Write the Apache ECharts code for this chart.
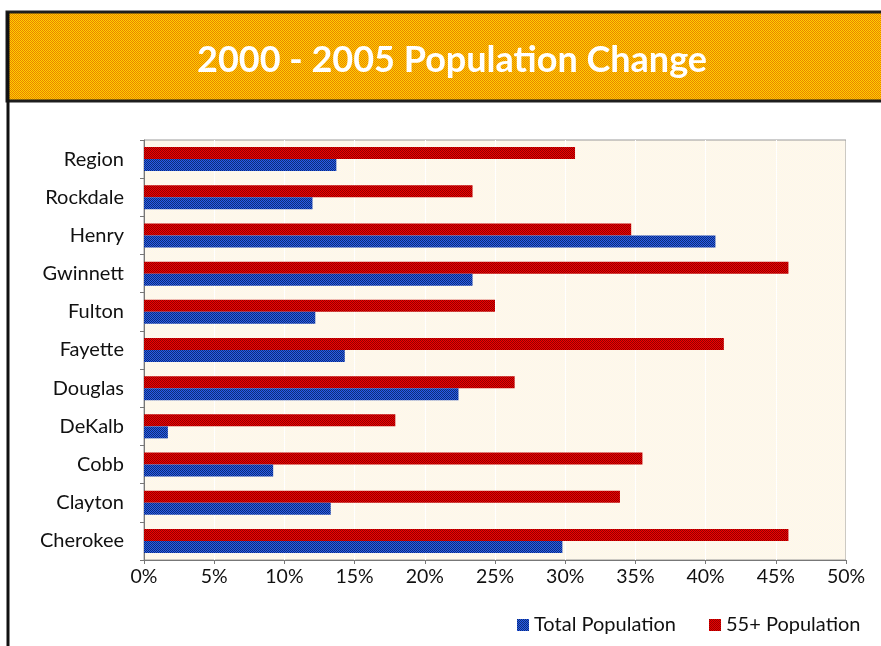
<!DOCTYPE html>
<html lang="en">
<head>
    <meta charset="UTF-8">
    <title>2000 - 2005 Population Change</title>
    <script src="https://cdn.jsdelivr.net/npm/echarts@6/dist/echarts.min.js"></script>
    <style>
        html, body { margin: 0; padding: 0; background: #fff; }
        #chart_wrap { width: 881px; height: 646px; }
    </style>
</head>
<body>
<div id="chart_wrap"></div>
<script type="text/javascript">
// data (percent change 2000-2005)
var counties = ["Region", "Rockdale", "Henry", "Gwinnett", "Fulton", "Fayette",
                "Douglas", "DeKalb", "Cobb", "Clayton", "Cherokee"];
var totalPop = [13.7, 12.0, 40.7, 23.4, 12.2, 14.3, 22.4, 1.7, 9.2, 13.3, 29.8];
var pop55 = [30.7, 23.4, 34.7, 45.9, 25.0, 41.3, 26.4, 17.9, 35.5, 33.9, 45.9];
var seriesNames = ["Total Population", "55+ Population"];

// small checker patterns, to get the dithered look of the original
function checker(c1, c2) {
    var cv = document.createElement("canvas");
    cv.width = 2;
    cv.height = 2;
    var ctx = cv.getContext("2d");
    ctx.fillStyle = c1;
    ctx.fillRect(0, 0, 2, 2);
    ctx.fillStyle = c2;
    ctx.fillRect(0, 0, 1, 1);
    ctx.fillRect(1, 1, 1, 1);
    return { image: cv, repeat: "repeat" };
}

var redFill = checker("#f00000", "#920000");
var blueFill = checker("#2a5ae8", "#0c2e78");
var creamFill = checker("#fffce6", "#fcf3f0");
var orangeFill = checker("#ffd000", "#e98200");

var font = "Lato, 'Open Sans', sans-serif";

var chart = echarts.init(document.getElementById("chart_wrap"));
var option = {
    animation: false,
    title: {
        text: "2000 - 2005 Population Change",
        left: 192,
        top: 37,
        textStyle: {
            color: "#fff",
            fontFamily: font,
            fontWeight: "bold",
            fontSize: 36
        }
    },
    graphic: [
        {
            // orange header band
            type: "rect",
            z: -1,
            shape: { x: 7, y: 12, width: 890, height: 89 },
            style: { fill: orangeFill, stroke: "#1e1e1e", lineWidth: 3 }
        },
        {
            // outer frame, left side
            type: "line",
            z: -1,
            shape: { x1: 8, y1: 12, x2: 8, y2: 646 },
            style: { stroke: "#111", lineWidth: 3 }
        }
    ],
    legend: {
        data: seriesNames,
        left: 512,
        top: 610,
        itemWidth: 12,
        itemHeight: 12,
        itemGap: 33,
        icon: "rect",
        textStyle: { color: "#111", fontFamily: font, fontSize: 20 }
    },
    grid: {
        left: 144,
        right: 35,
        top: 140,
        bottom: 86,
        show: true,
        backgroundColor: creamFill,
        borderColor: "#9a9a9a",
        borderWidth: 1
    },
    xAxis: {
        type: "value",
        min: 0,
        max: 50,
        interval: 5,
        axisLine: { show: true, lineStyle: { color: "#777" } },
        axisTick: { show: true, length: 4, lineStyle: { color: "#777" } },
        axisLabel: {
            formatter: "{value}%",
            color: "#111",
            fontFamily: font,
            fontSize: 19.5,
            margin: 7
        },
        splitLine: { show: true, lineStyle: { color: "#ffffff", width: 1 } }
    },
    yAxis: {
        type: "category",
        data: counties,
        inverse: true,
        axisLine: { show: true, lineStyle: { color: "#777" } },
        axisTick: { show: true, length: 4, lineStyle: { color: "#777" } },
        axisLabel: {
            color: "#111",
            fontFamily: font,
            fontSize: 20,
            margin: 20
        },
        splitLine: { show: false }
    },
    // 55+ first so that its bar sits above the total bar in each row
    series: [
        {
            name: seriesNames[1],
            type: "bar",
            data: pop55,
            barWidth: 12,
            barGap: "0%",
            itemStyle: { color: redFill }
        },
        {
            name: seriesNames[0],
            type: "bar",
            data: totalPop,
            barWidth: 12,
            barGap: "0%",
            itemStyle: { color: blueFill }
        }
    ]
};

chart.setOption(option);
</script>
</body>
</html>
